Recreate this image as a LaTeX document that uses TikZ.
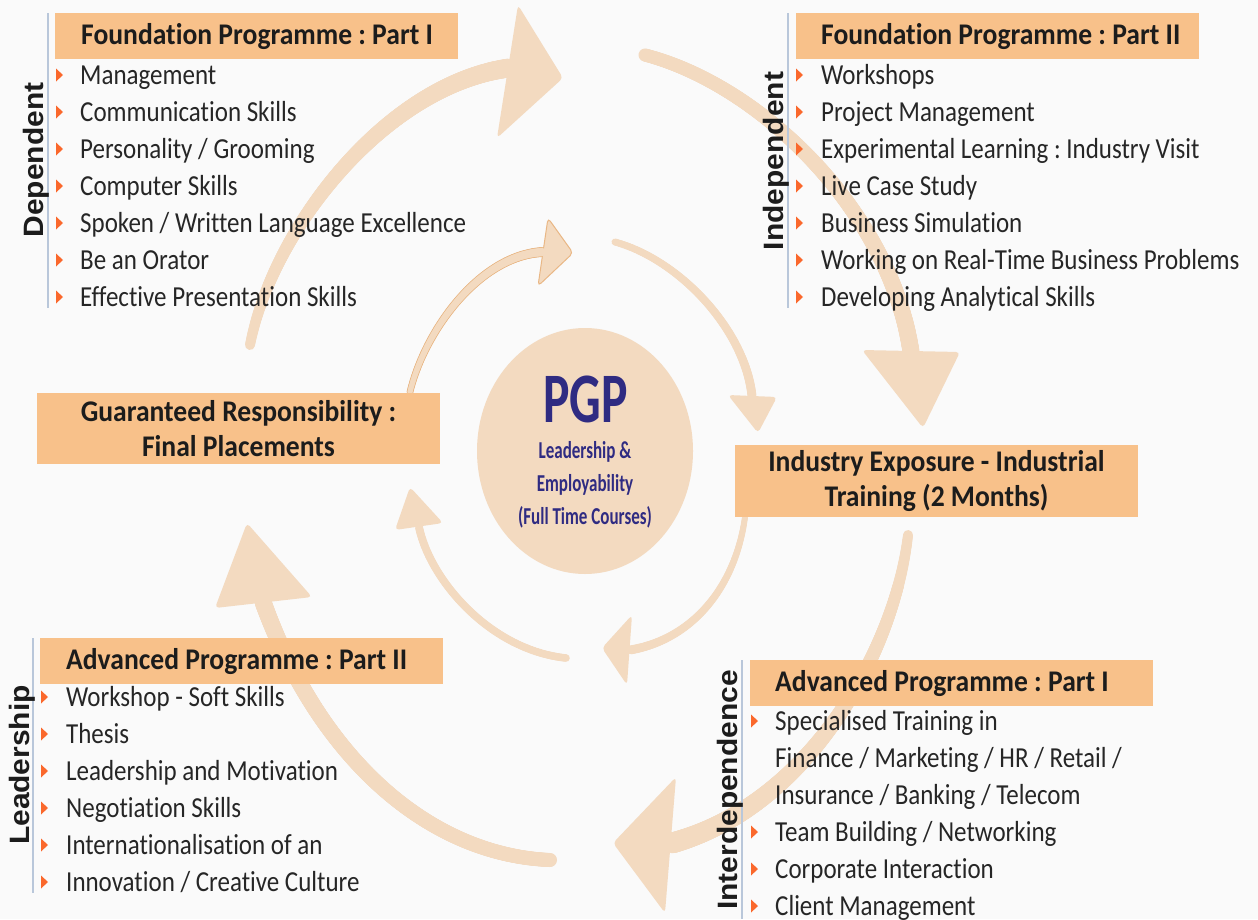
\documentclass[tikz,border=0pt]{standalone}
\usepackage{fontspec}
\setmainfont{Carlito}
\newfontfamily\bodyf{Carlito}[FakeStretch=0.862, Ligatures=CommonOff]
\newfontfamily\headf{Carlito}[FakeStretch=0.92, Ligatures=CommonOff]
\newfontfamily\pgpf{Carlito}[FakeStretch=0.7, Ligatures=CommonOff]
\newfontfamily\sidef{Liberation Sans}[FakeStretch=1.07]
\usetikzlibrary{shapes.geometric,decorations.markings}
\definecolor{bgc}{RGB}{250,250,250}
\definecolor{boxc}{RGB}{248,193,138}
\definecolor{arrc}{RGB}{243,218,192}
\definecolor{arrline}{RGB}{233,183,133}
\definecolor{bulc}{RGB}{250,104,44}
\definecolor{vlc}{RGB}{185,199,218}
\definecolor{txtc}{RGB}{38,38,38}
\definecolor{headc}{RGB}{28,28,28}
\definecolor{pgpc}{RGB}{47,43,130}
\frenchspacing
\begin{document}
\begin{tikzpicture}[x=1pt,y=-1pt,
  taper/.style n args={3}{decorate, decoration={markings,
    mark=between positions 0 and 1 step 1pt with {%
      \pgfmathsetmacro\rr{#1+(#2-#1)*\pgfkeysvalueof{/pgf/decoration/mark info/distance from start}/\pgfdecoratedpathlength}%
      \fill[#3] (0,0) circle[radius=\rr pt];}}},
  ahead/.style={fill=arrc, rounded corners=4pt},
  headbox/.style={fill=boxc, anchor=north west, inner xsep=0pt, inner ysep=0pt,
    text width=403pt, minimum height=46pt, align=flush left, text=headc,
    font=\headf\bfseries\fontsize{30}{34}\selectfont\frenchspacing},
  bigbox/.style={fill=boxc, inner sep=0pt, minimum width=403pt, align=center, text=headc,
    font=\headf\bfseries\fontsize{30}{35}\selectfont\frenchspacing},
  item/.style={anchor=base west, inner sep=0pt, text=txtc,
    font=\bodyf\fontsize{29}{35}\selectfont\frenchspacing},
  side/.style={anchor=base, rotate=90, inner sep=0pt, text=headc,
    font=\sidef\bfseries\fontsize{28}{30}\selectfont},
  vline/.style={draw=vlc, line width=1.6pt},
  ctext/.style={anchor=base, inner sep=0pt, text=pgpc},
  bul/.pic={\fill[bulc] (0,-6.5) -- (7,0) -- (0,6.5) -- cycle;}
]
\useasboundingbox (0,0) rectangle (1258,919);
\fill[bgc] (0,0) rectangle (1258,919);

% ---------- outer ring arrows ----------
\coordinate (o1t) at (250,345); \coordinate (o1e) at (509,68);
\coordinate (o1a) at (518,5); \coordinate (o1p) at (563,78); \coordinate (o1b) at (497,138);
\path[taper={5}{9.5}{arrc}] (o1t) .. controls (272,230) and (385,85) .. (o1e);
\fill[ahead] (o1a) -- (o1p) -- (o1b) -- cycle;

\coordinate (o2t) at (645,55); \coordinate (o2e) at (911,352);
\coordinate (o2a) at (862,350); \coordinate (o2p) at (923,428); \coordinate (o2b) at (960,352);
\path[taper={6.5}{8.5}{arrc}] (o2t) .. controls (760,85) and (890,210) .. (o2e);
\fill[ahead] (o2a) -- (o2p) -- (o2b) -- cycle;

\coordinate (o3t) at (908,535); \coordinate (o3e) at (672,843);
\coordinate (o3a) at (676,777); \coordinate (o3p) at (613,843); \coordinate (o3b) at (665,913);
\path[taper={5}{10.5}{arrc}] (o3t) .. controls (895,650) and (810,805) .. (o3e);
\fill[ahead] (o3a) -- (o3p) -- (o3b) -- cycle;

\coordinate (o4t) at (550,860); \coordinate (o4e) at (263,602);
\coordinate (o4a) at (312,597); \coordinate (o4p) at (247,523); \coordinate (o4b) at (215,608);
\path[taper={7}{8.5}{arrc}] (o4t) .. controls (430,855) and (320,760) .. (o4e);
\fill[ahead] (o4a) -- (o4p) -- (o4b) -- cycle;

% ---------- inner ring arrows ----------
\coordinate (i1t) at (410,392); \coordinate (i1e) at (543,252);
\coordinate (i1a) at (548,218); \coordinate (i1p) at (573,253); \coordinate (i1b) at (538,286);
\path[taper={3.4}{5}{arrline}] (i1t) .. controls (425,330) and (480,255) .. (i1e);
\filldraw[ahead, draw=arrline, line width=1pt] (i1a) -- (i1p) -- (i1b) -- cycle;
\path[taper={2.6}{4.2}{arrc}] (i1t) .. controls (425,330) and (480,255) .. (i1e);

\coordinate (i2t) at (615,242); \coordinate (i2e) at (752,396);
\coordinate (i2a) at (728,395); \coordinate (i2p) at (758,433); \coordinate (i2b) at (777,397);
\path[taper={3.5}{4.5}{arrc}] (i2t) .. controls (680,260) and (745,330) .. (i2e);
\fill[ahead] (i2a) -- (i2p) -- (i2b) -- cycle;

\coordinate (i3t) at (745,517); \coordinate (i3e) at (630,650);
\coordinate (i3a) at (632,615); \coordinate (i3p) at (602,648); \coordinate (i3b) at (627,685);
\path[taper={3}{4.5}{arrc}] (i3t) .. controls (735,590) and (690,640) .. (i3e);
\fill[ahead] (i3a) -- (i3p) -- (i3b) -- cycle;

\coordinate (i4t) at (566,658); \coordinate (i4e) at (419,527);
\coordinate (i4a) at (443,523); \coordinate (i4p) at (410,487); \coordinate (i4b) at (395,530);
\path[taper={3.8}{4}{arrc}] (i4t) .. controls (490,650) and (430,580) .. (i4e);
\fill[ahead] (i4a) -- (i4p) -- (i4b) -- cycle;

% ---------- centre ----------
\node[ellipse, fill=arrc, minimum width=216pt, minimum height=246pt, inner sep=0pt] (pgp) at (585,451) {};
\node[ctext, font=\pgpf\bfseries\fontsize{71}{71}\selectfont] (pgpt) at (585.5,422) {PGP};
\node[ctext, font=\pgpf\bfseries\fontsize{24.3}{30}\selectfont] (pgp1) at (585,458) {Leadership \&};
\node[ctext, font=\pgpf\bfseries\fontsize{24.3}{30}\selectfont] (pgp2) at (585,491) {Employability};
\node[ctext, font=\pgpf\bfseries\fontsize{24.3}{30}\selectfont] (pgp3) at (585,524) {(Full Time Courses)};

% ---------- boxes ----------
\node[bigbox, minimum height=71pt] (gr) at (238.5,428.5) {Guaranteed Responsibility :\\Final Placements};
\node[bigbox, minimum height=72pt] (ie) at (936.5,481) {Industry Exposure - Industrial\\Training (2 Months)};

% ---------- top-left list ----------
\draw[vline] (48,13) -- (48,308);
\node[side] (s1) at (43,160) {Dependent};
\node[headbox] (h1) at (55,13) {\hspace*{26pt}Foundation Programme : Part I};
\node[item] (a1) at (80,84) {Management};
\node[item] (a2) at (80,121) {Communication Skills};
\node[item] (a3) at (80,158) {Personality / Grooming};
\node[item] (a4) at (80,195) {Computer Skills};
\node[item] (a5) at (80,232) {Spoken / Written Language Excellence};
\node[item] (a6) at (80,269) {Be an Orator};
\node[item] (a7) at (80,306) {Effective Presentation Skills};
\foreach \n in {a1,a2,a3,a4,a5,a6,a7} \pic at ([shift={(-24,-9)}]\n.base west) {bul};

% ---------- top-right list ----------
\draw[vline] (788,13) -- (788,308);
\node[side] (s2) at (783,161) {Independent};
\node[headbox] (h2) at (796,13) {\hspace*{25pt}Foundation Programme : Part II};
\node[item] (b1) at (821,84) {Workshops};
\node[item] (b2) at (821,121) {Project Management};
\node[item] (b3) at (821,158) {Experimental Learning : Industry Visit};
\node[item] (b4) at (821,195) {Live Case Study};
\node[item] (b5) at (821,232) {Business Simulation};
\node[item] (b6) at (821,269) {Working on Real-Time Business Problems};
\node[item] (b7) at (821,306) {Developing Analytical Skills};
\foreach \n in {b1,b2,b3,b4,b5,b6,b7} \pic at ([shift={(-25,-9)}]\n.base west) {bul};

% ---------- bottom-left list ----------
\draw[vline] (33,638) -- (33,893);
\node[side] (s3) at (29,765) {Leadership};
\node[headbox] (h3) at (40,638) {\hspace*{26pt}Advanced Programme : Part II};
\node[item] (c1) at (66,706) {Workshop - Soft Skills};
\node[item] (c2) at (66,743) {Thesis};
\node[item] (c3) at (66,780) {Leadership and Motivation};
\node[item] (c4) at (66,817) {Negotiation Skills};
\node[item] (c5) at (66,854) {Internationalisation of an};
\node[item] (c6) at (66,891) {Innovation / Creative Culture};
\foreach \n in {c1,c2,c3,c4,c5,c6} \pic at ([shift={(-25,-9)}]\n.base west) {bul};

% ---------- bottom-right list ----------
\draw[vline] (742,660) -- (742,919);
\node[side] (s4) at (737,790) {Interdependence};
\node[headbox] (h4) at (750,660) {\hspace*{25pt}Advanced Programme : Part I};
\node[item] (d1) at (775,730) {Specialised Training in};
\node[item] (d2) at (775,767) {Finance / Marketing / HR / Retail /};
\node[item] (d3) at (775,804) {Insurance / Banking / Telecom};
\node[item] (d4) at (775,841) {Team Building / Networking};
\node[item] (d5) at (775,878) {Corporate Interaction};
\node[item] (d6) at (775,915) {Client Management};
\foreach \n in {d1,d4,d5,d6} \pic at ([shift={(-24,-9)}]\n.base west) {bul};
\end{tikzpicture}
\end{document}
